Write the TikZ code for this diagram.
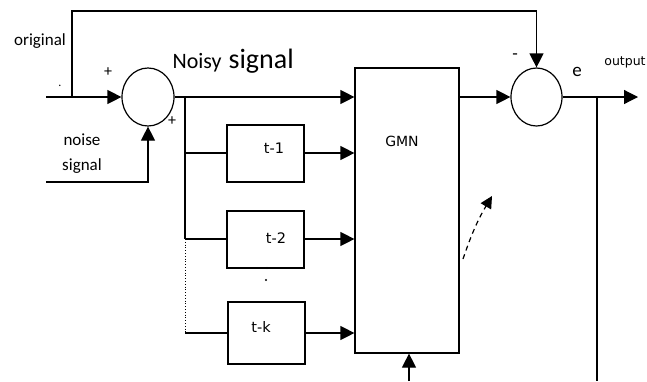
\documentclass[tikz,border=0pt]{standalone}
\usepackage{fontspec}
\setmainfont{Carlito}
\newfontfamily\dv{DejaVu Sans}
\usetikzlibrary{arrows.meta,shapes.geometric}
\newcommand{\fs}[1]{\fontsize{#1}{#1}\selectfont}
\begin{document}
\begin{tikzpicture}[x=1pt,y=-1pt,
  line width=1.2pt,
  sumnode/.style={draw,ellipse,minimum width=52pt,minimum height=58pt,inner sep=0pt},
  delaybox/.style={draw,rectangle,minimum width=77pt,minimum height=57pt,inner sep=0pt},
  arr/.style={-{Triangle[length=14pt,width=14pt]}},
  lbl/.style={inner sep=0pt,font=\fs{17}},
  dlbl/.style={inner sep=0pt,font=\dv\fs{14.5}}]
\useasboundingbox (0,0) rectangle (647,381);

% sum junctions
\node[sumnode] (s1) at (148,97) {};
\node[sumnode,minimum width=51pt] (s2) at (536.5,97) {};
% GMN block
\node[draw,rectangle,minimum width=104pt,minimum height=285pt,inner sep=0pt] (gmn) at (407,210.5) {};
\node[inner sep=0pt,font=\dv\fs{14}] (gmnl) at (402,141) {GMN};
% delay boxes
\node[delaybox] (d1) at (265.5,153.5) {};
\node[delaybox] (d2) at (265.5,239.5) {};
\node[delaybox,minimum height=62pt] (dk) at (266.5,333) {};
\node[dlbl] (t1) at (274,148) {t-1};
\node[dlbl] (t2) at (276,238) {t-2};
\node[dlbl] (tk) at (261,327) {t-k};

% coordinates
\coordinate (in1) at (46,97);
\coordinate (j1) at (72,97);
\coordinate (top1) at (72,11);
\coordinate (noisein) at (46,182);
\coordinate (b0) at (185,97);
\coordinate (b1) at (185,153);
\coordinate (b2) at (185,239);
\coordinate (bk) at (185,333);
\coordinate (outend) at (638,97);
\coordinate (o1) at (597,97);
\coordinate (o2) at (597,381);
\coordinate (bot) at (409,381);
\coordinate (ds) at (463,259);
\coordinate (de) at (492,196);

% original signal path and feedback to error junction
\draw[arr] (in1) -- (s1.west);
\draw[arr] (j1) -- (top1) -| (s2.north);
% noise input
\draw[arr] (noisein) -| (s1.south);
% noisy signal to GMN
\draw[arr] (s1.east) -- (gmn.west |- s1.east);
% tapped delay line
\draw (b0) -- (b2);
\draw[line width=0.8pt,dotted] (b2) -- (bk);
\draw (b1) -- (b1 -| d1.west);
\draw (b2) -- (b2 -| d2.west);
\draw (bk) -- (bk -| dk.west);
\draw[arr] (d1.east |- b1) -- (gmn.west |- b1);
\draw[arr] (d2.east |- b2) -- (gmn.west |- b2);
\draw[arr] (dk.east |- bk) -- (gmn.west |- bk);
% dots between t-2 and t-k
\fill (267,268) circle (1.2pt);
\fill (266,280) circle (1.2pt);
% GMN output to error junction
\draw[arr] (gmn.east |- s2.west) -- (s2.west);
\draw[arr] (s2.east) -- (outend);
\draw (o1) -- (o2);
% bottom input to GMN
\draw[arr] (bot) -- (bot |- gmn.south);
% adaptation arrow
\draw[-{Triangle[length=12pt,width=12pt]},dashed,dash pattern=on 5pt off 4pt] (ds) to[bend left=6] (de);

% labels
\node[lbl] (orig) at (40,41) {original};
\node[lbl,font=\fs{12}] (dot) at (60,86) {.};
\node[lbl,font=\fs{16}] (p1) at (108,72) {+};
\node[lbl,font=\fs{16}] (p2) at (172,121) {+};
\node[lbl] (nz1) at (82,140) {noise};
\node[lbl] (nz2) at (82,166) {signal};
\node[anchor=base west,inner sep=0pt,font=\fs{22}] (ns1) at (172,68) {Noisy};
\node[anchor=base west,inner sep=0pt,font=\fs{28}] (ns2) at (228,68) {signal};
\node[lbl,font=\fs{18}] (minus) at (515,57) {-};
\node[lbl,font=\fs{19}] (e) at (577,72) {e};
\node[inner sep=0pt,font=\dv\fs{12.5}] (outl) at (625,62) {output};
\end{tikzpicture}
\end{document}
